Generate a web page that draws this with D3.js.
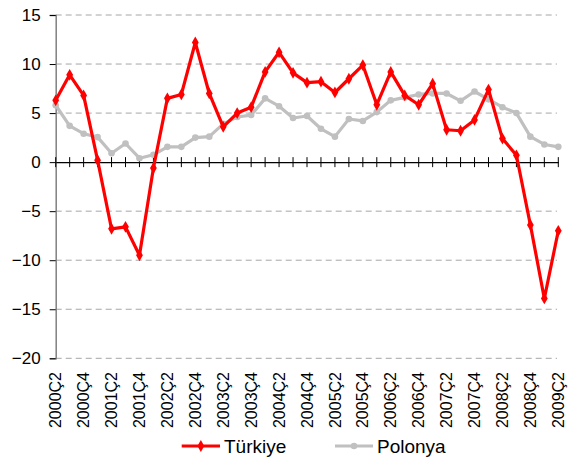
<!DOCTYPE html>
<html><head><meta charset="utf-8">
<script src="https://cdn.jsdelivr.net/npm/d3@7"></script>
<style>body{margin:0;background:#fff}svg{display:block}text{font-family:"Liberation Sans",Arial,sans-serif}</style>
</head><body>
<svg id="c" width="571" height="457"></svg>
<script>
const quarters = ["2000Ç2","2000Ç3","2000Ç4","2001Ç1","2001Ç2","2001Ç3","2001Ç4","2002Ç1","2002Ç2","2002Ç3","2002Ç4","2003Ç1","2003Ç2","2003Ç3","2003Ç4","2004Ç1","2004Ç2","2004Ç3","2004Ç4","2005Ç1","2005Ç2","2005Ç3","2005Ç4","2006Ç1","2006Ç2","2006Ç3","2006Ç4","2007Ç1","2007Ç2","2007Ç3","2007Ç4","2008Ç1","2008Ç2","2008Ç3","2008Ç4","2009Ç1","2009Ç2"];
const turkiye = [6.3,8.9,6.8,0.2,-6.8,-6.6,-9.5,-0.6,6.5,6.9,12.2,7.0,3.6,5.0,5.6,9.2,11.2,9.1,8.1,8.2,7.1,8.5,9.9,5.85,9.2,6.8,5.85,8.0,3.3,3.2,4.3,7.4,2.4,0.7,-6.4,-13.9,-7.0];
const polonya = [5.8,3.7,2.9,2.55,0.9,1.9,0.4,0.75,1.56,1.56,2.5,2.6,3.9,4.6,4.8,6.5,5.7,4.5,4.7,3.4,2.6,4.4,4.2,5.1,6.3,6.6,6.9,7.0,7.0,6.25,7.2,6.4,5.6,5.0,2.6,1.8,1.56];
const yTicks = [15,10,5,0,-5,-10,-15,-20];
const seriesNames = ["Türkiye","Polonya"];
const seriesColors = ["#ff0000","#c0c0c0"];

const svg = d3.select("#c");
const x = d3.scalePoint().domain(quarters).range([55.7, 558.3]);
const y = d3.scaleLinear().domain([-20, 15]).range([358.3, 15]);

// gridlines
svg.append("g").selectAll("line").data(yTicks.filter(d => d !== 0)).join("line")
  .attr("x1", 55.7).attr("x2", 557).attr("y1", d => y(d)).attr("y2", d => y(d))
  .attr("stroke", "#a6a6a6").attr("stroke-width", 1).attr("stroke-dasharray", "6,4");

// y axis
const yAxis = svg.append("g").attr("transform", "translate(55.7,0)")
  .call(d3.axisLeft(y).tickValues(yTicks).tickSize(6).tickPadding(9));
yAxis.select(".domain").attr("stroke", "#808080").attr("stroke-width", 1.5);
yAxis.selectAll(".tick line").attr("stroke", "#000");
yAxis.selectAll("text").attr("font-size", 17).attr("fill", "#000").attr("font-family", "Liberation Sans, Arial, sans-serif");

// x axis at zero
const xAxis = svg.append("g").attr("transform", `translate(0,${y(0)})`)
  .call(d3.axisBottom(x).tickSize(0).tickFormat(""));
xAxis.select(".domain").attr("stroke", "#000").attr("stroke-width", 1.3);
svg.append("g").selectAll("line").data(quarters).join("line")
  .attr("x1", d => x(d)).attr("x2", d => x(d))
  .attr("y1", y(0) - 5).attr("y2", y(0) + 5)
  .attr("stroke", "#000").attr("stroke-width", 1);

// x labels
svg.append("g").selectAll("text").data(quarters.filter((d, i) => i % 2 === 0)).join("text")
  .attr("transform", d => `translate(${x(d)},372) rotate(-90)`)
  .attr("text-anchor", "end").attr("dy", "0.35em")
  .attr("font-size", 16).attr("fill", "#000").text(d => d);

const line = d3.line().x((d, i) => x(quarters[i])).y(d => y(d));

// Polonya
svg.append("path").datum(polonya).attr("d", line).attr("fill", "none")
  .attr("stroke", seriesColors[1]).attr("stroke-width", 3.2).attr("stroke-linejoin", "round");
svg.append("g").selectAll("circle").data(polonya).join("circle")
  .attr("cx", (d, i) => x(quarters[i])).attr("cy", d => y(d)).attr("r", 3.3)
  .attr("fill", seriesColors[1]);

// Türkiye
svg.append("path").datum(turkiye).attr("d", line).attr("fill", "none")
  .attr("stroke", seriesColors[0]).attr("stroke-width", 3.2).attr("stroke-linejoin", "round");
const diamond = d3.symbol().type(d3.symbolDiamond).size(40);
svg.append("g").selectAll("path").data(turkiye).join("path")
  .attr("d", diamond)
  .attr("transform", (d, i) => `translate(${x(quarters[i])},${y(d)})`)
  .attr("fill", seriesColors[0]);

// legend
const leg = [{x1: 181.7, x2: 220, tx: 224}, {x1: 335, x2: 373, tx: 377}];
leg.forEach((l, k) => {
  const g = svg.append("g");
  g.append("line").attr("x1", l.x1).attr("x2", l.x2).attr("y1", 446).attr("y2", 446)
    .attr("stroke", seriesColors[k]).attr("stroke-width", 3.2);
  if (k === 0) {
    g.append("path").attr("d", diamond).attr("transform", `translate(${(l.x1 + l.x2) / 2},446)`).attr("fill", seriesColors[k]);
  } else {
    g.append("circle").attr("cx", (l.x1 + l.x2) / 2).attr("cy", 446).attr("r", 3.3).attr("fill", seriesColors[k]);
  }
  g.append("text").attr("x", l.tx).attr("y", 446).attr("dy", "0.35em")
    .attr("font-size", 19).attr("fill", "#000").text(seriesNames[k]);
});
</script>
</body></html>
